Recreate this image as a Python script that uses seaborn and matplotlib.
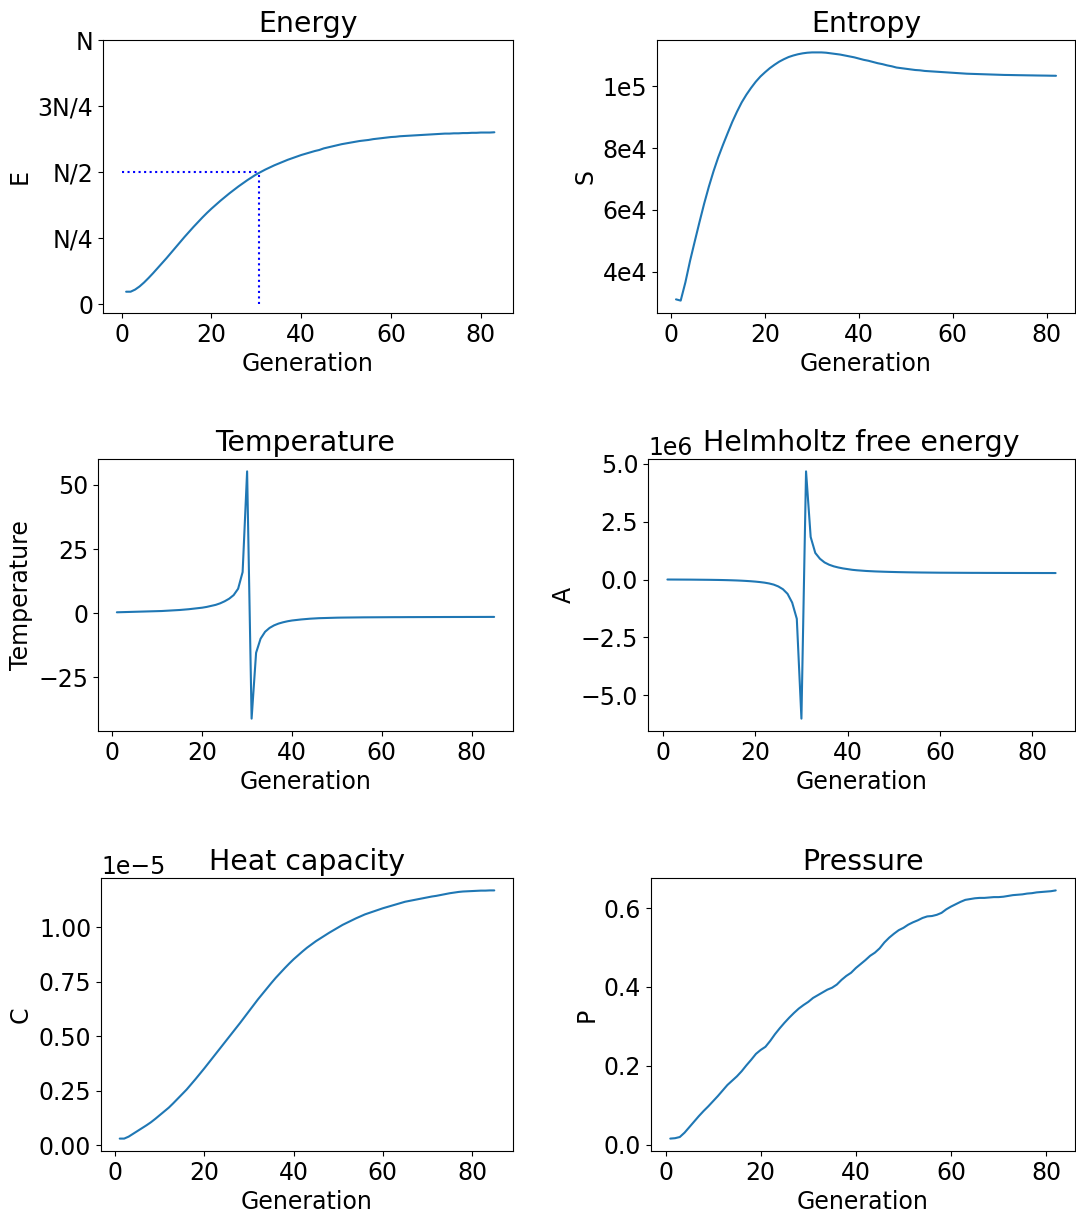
import matplotlib
matplotlib.use("Agg")
import matplotlib.pyplot as plt
import seaborn as sns

# ---------------- data ----------------
gen_E = list(range(1, 84))
energy_frac = [  # E / N
    0.048, 0.048, 0.056, 0.068, 0.083, 0.100, 0.118, 0.137, 0.156, 0.175,
    0.195, 0.215, 0.235, 0.255, 0.274, 0.293, 0.311, 0.329, 0.346, 0.362,
    0.377, 0.392, 0.406, 0.420, 0.433, 0.446, 0.458, 0.470, 0.481, 0.492,
    0.501, 0.510, 0.518, 0.526, 0.533, 0.540, 0.547, 0.553, 0.559, 0.565,
    0.570, 0.575, 0.580, 0.584, 0.590, 0.594, 0.598, 0.602, 0.606, 0.609,
    0.612, 0.615, 0.618, 0.620, 0.622, 0.625, 0.627, 0.629, 0.631, 0.633,
    0.634, 0.636, 0.637, 0.638, 0.639, 0.640, 0.641, 0.642, 0.643, 0.644,
    0.645, 0.646, 0.646, 0.647, 0.647, 0.648, 0.648, 0.649, 0.649, 0.650,
    0.650, 0.650, 0.651,
]
half_gen = 30.5
half_level = 0.5
energy_ticks = [0, 0.25, 0.5, 0.75, 1.0]
energy_ticklabels = ["0", "N/4", "N/2", "3N/4", "N"]

gen_S = list(range(1, 83))
entropy = [
    31000, 30600, 36500, 43500, 49800, 56000, 62000, 67500, 72500, 77000,
    81000, 84800, 88500, 91800, 94800, 97300, 99500, 101500, 103200, 104600,
    105900, 107000, 108000, 108800, 109500, 110000, 110400, 110700, 110900, 111000,
    111000, 111000, 110900, 110700, 110500, 110300, 110000, 109700, 109400, 109000,
    108600, 108300, 107900, 107500, 107200, 106800, 106500, 106100, 105900, 105700,
    105500, 105300, 105200, 105000, 104900, 104800, 104700, 104600, 104500, 104400,
    104300, 104200, 104100, 104050, 104000, 103950, 103900, 103850, 103800, 103750,
    103700, 103680, 103650, 103620, 103600, 103570, 103550, 103520, 103500, 103480,
    103450, 103430,
]
entropy_ticks = [40000, 60000, 80000, 100000]
entropy_ticklabels = ["4e4", "6e4", "8e4", "1e5"]

gen_T = list(range(1, 86))
temperature = [
    0.30, 0.35, 0.40, 0.45, 0.50, 0.55, 0.60, 0.65, 0.70, 0.75,
    0.80, 0.90, 1.00, 1.10, 1.20, 1.35, 1.50, 1.70, 1.90, 2.10,
    2.40, 2.80, 3.20, 3.80, 4.60, 5.60, 7.00, 9.50, 16.0, 55.3,
    -41.2, -15.5, -10.0, -7.3, -5.8, -4.8, -4.1, -3.6, -3.2, -2.9,
    -2.7, -2.5, -2.35, -2.2, -2.1, -2.0, -1.95, -1.9, -1.85, -1.8,
    -1.77, -1.75, -1.73, -1.71, -1.69, -1.67, -1.66, -1.65, -1.64, -1.63,
    -1.62, -1.61, -1.60, -1.60, -1.59, -1.58, -1.58, -1.57, -1.57, -1.56,
    -1.56, -1.55, -1.55, -1.54, -1.54, -1.53, -1.53, -1.53, -1.52, -1.52,
    -1.52, -1.51, -1.51, -1.50, -1.50,
]
temperature_ticks = [-25, 0, 25, 50]

gen_A = list(range(1, 86))
helmholtz = [  # in units of 1e6
    0.0, -0.001, -0.002, -0.003, -0.004, -0.005, -0.007, -0.009, -0.011, -0.013,
    -0.016, -0.019, -0.023, -0.028, -0.034, -0.041, -0.050, -0.061, -0.074, -0.090,
    -0.110, -0.135, -0.170, -0.22, -0.30, -0.42, -0.62, -1.00, -1.70, -6.02,
    4.68, 1.84, 1.15, 0.90, 0.74, 0.64, 0.57, 0.52, 0.48, 0.45,
    0.42, 0.40, 0.385, 0.37, 0.36, 0.35, 0.343, 0.336, 0.330, 0.325,
    0.320, 0.316, 0.312, 0.309, 0.306, 0.303, 0.301, 0.299, 0.297, 0.295,
    0.294, 0.293, 0.292, 0.291, 0.290, 0.289, 0.288, 0.288, 0.287, 0.286,
    0.286, 0.285, 0.285, 0.284, 0.284, 0.283, 0.283, 0.283, 0.282, 0.282,
    0.282, 0.281, 0.281, 0.281, 0.280,
]
helmholtz_scale = 1e6
helmholtz_ticks = [-5.0e6, -2.5e6, 0.0, 2.5e6, 5.0e6]

gen_C = list(range(1, 86))
heat_capacity = [  # in units of 1e-5
    0.031, 0.031, 0.040, 0.053, 0.066, 0.079, 0.092, 0.106, 0.122, 0.139,
    0.156, 0.173, 0.193, 0.214, 0.235, 0.256, 0.280, 0.304, 0.329, 0.354,
    0.380, 0.406, 0.432, 0.458, 0.484, 0.510, 0.536, 0.562, 0.589, 0.616,
    0.643, 0.670, 0.695, 0.720, 0.745, 0.769, 0.791, 0.813, 0.834, 0.854,
    0.872, 0.890, 0.907, 0.922, 0.937, 0.950, 0.963, 0.976, 0.988, 1.000,
    1.012, 1.022, 1.032, 1.042, 1.051, 1.060, 1.067, 1.074, 1.081, 1.088,
    1.094, 1.100, 1.106, 1.112, 1.118, 1.122, 1.126, 1.130, 1.134, 1.138,
    1.142, 1.145, 1.149, 1.153, 1.157, 1.160, 1.163, 1.165, 1.166, 1.167,
    1.168, 1.169, 1.169, 1.170, 1.170,
]
heat_scale = 1e-5
heat_ticks = [0.0, 0.25e-5, 0.5e-5, 0.75e-5, 1.0e-5]

gen_P = list(range(1, 83))
pressure = [
    0.015, 0.016, 0.019, 0.030, 0.044, 0.058, 0.072, 0.085, 0.097, 0.110,
    0.123, 0.137, 0.151, 0.162, 0.173, 0.186, 0.201, 0.215, 0.230, 0.240,
    0.248, 0.263, 0.280, 0.295, 0.309, 0.322, 0.334, 0.345, 0.354, 0.362,
    0.372, 0.379, 0.386, 0.393, 0.398, 0.406, 0.418, 0.428, 0.436, 0.448,
    0.458, 0.468, 0.479, 0.487, 0.498, 0.513, 0.525, 0.535, 0.544, 0.550,
    0.558, 0.564, 0.569, 0.575, 0.579, 0.580, 0.583, 0.588, 0.597, 0.604,
    0.610, 0.616, 0.621, 0.623, 0.625, 0.626, 0.626, 0.627, 0.628, 0.628,
    0.629, 0.631, 0.633, 0.634, 0.635, 0.637, 0.638, 0.640, 0.641, 0.642,
    0.643, 0.645,
]
pressure_ticks = [0.0, 0.2, 0.4, 0.6]

x_ticks = [0, 20, 40, 60, 80]

# ---------------- style ----------------
sns.set_style("ticks")
plt.rcParams.update({
    "font.size": 17,
    "axes.titlesize": 20.4,
    "axes.labelsize": 17,
    "xtick.labelsize": 17,
    "ytick.labelsize": 17,
    "axes.edgecolor": "black",
    "axes.linewidth": 0.8,
    "xtick.color": "black",
    "ytick.color": "black",
    "xtick.major.size": 3.5,
    "ytick.major.size": 3.5,
    "xtick.major.width": 0.8,
    "ytick.major.width": 0.8,
    "axes.labelcolor": "black",
    "text.color": "black",
})
plt.rcParams["font.family"] = ["DejaVu Sans"]

BLUE = "#1f77b4"
W, H = 1076, 1215
fig = plt.figure(figsize=(W / 100, H / 100), dpi=100)


def make_ax(left, top, right, bottom):
    return fig.add_axes([left / W, 1 - bottom / H, (right - left) / W, (bottom - top) / H])


ax_E = make_ax(103, 40, 513, 313)
ax_S = make_ax(657, 40, 1075, 313)
ax_T = make_ax(98, 459, 513, 731)
ax_A = make_ax(648, 459, 1075, 731)
ax_C = make_ax(101, 878, 513, 1151)
ax_P = make_ax(651, 878, 1075, 1151)

# Energy
sns.lineplot(x=gen_E, y=energy_frac, ax=ax_E, color=BLUE, linewidth=1.5)
ax_E.plot([0, half_gen], [half_level, half_level], linestyle=":", color="blue", linewidth=1.5)
ax_E.plot([half_gen, half_gen], [0, half_level], linestyle=":", color="blue", linewidth=1.5)
ax_E.set_yticks(energy_ticks)
ax_E.set_yticklabels(energy_ticklabels)
ax_E.set_ylim(top=1.0)
ax_E.set_title("Energy")
ax_E.set_ylabel("E")

# Entropy
sns.lineplot(x=gen_S, y=entropy, ax=ax_S, color=BLUE, linewidth=1.5)
ax_S.set_yticks(entropy_ticks)
ax_S.set_yticklabels(entropy_ticklabels)
ax_S.set_title("Entropy")
ax_S.set_ylabel("S")

# Temperature
sns.lineplot(x=gen_T, y=temperature, ax=ax_T, color=BLUE, linewidth=1.5)
ax_T.set_yticks(temperature_ticks)
ax_T.set_title("Temperature")
ax_T.set_ylabel("Temperature")

# Helmholtz
sns.lineplot(x=gen_A, y=[v * helmholtz_scale for v in helmholtz], ax=ax_A, color=BLUE, linewidth=1.5)
ax_A.set_yticks(helmholtz_ticks)
ax_A.set_title("Helmholtz free energy")
ax_A.set_ylabel("A")

# Heat capacity
sns.lineplot(x=gen_C, y=[v * heat_scale for v in heat_capacity], ax=ax_C, color=BLUE, linewidth=1.5)
ax_C.set_yticks(heat_ticks)
ax_C.set_title("Heat capacity")
ax_C.set_ylabel("C")

# Pressure
sns.lineplot(x=gen_P, y=pressure, ax=ax_P, color=BLUE, linewidth=1.5)
ax_P.set_yticks(pressure_ticks)
ax_P.set_title("Pressure")
ax_P.set_ylabel("P")

for ax in (ax_E, ax_S, ax_T, ax_A, ax_C, ax_P):
    ax.set_xticks(x_ticks)
    ax.set_xlabel("Generation")
    for s in ax.spines.values():
        s.set_visible(True)

fig.savefig("out.png", dpi=100)
